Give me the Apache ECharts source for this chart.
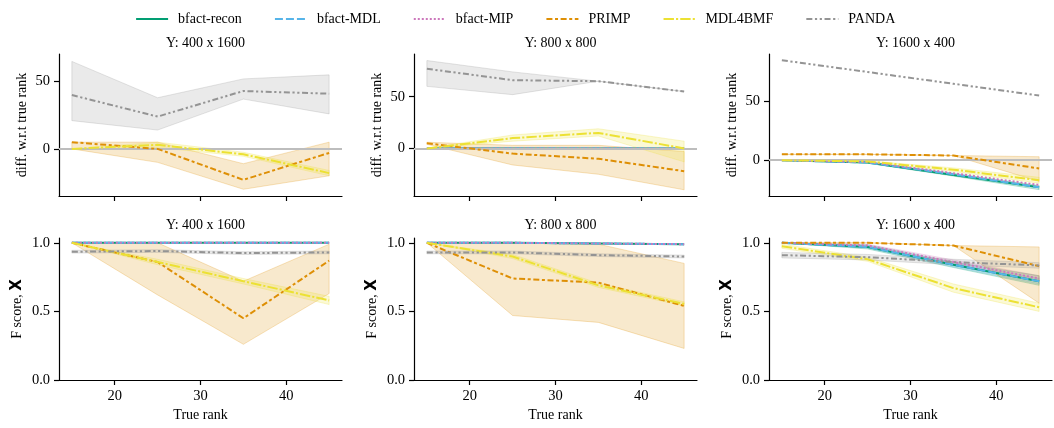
<!DOCTYPE html>
<html><head><meta charset="utf-8">
<script src="https://cdn.jsdelivr.net/npm/echarts@6/dist/echarts.min.js"></script>
<style>html,body{margin:0;padding:0;background:#fff}#c{width:1054px;height:428px}</style>
</head><body><div id="c"></div>
<script>
// ---------- data ----------
const trueRank = [15, 25, 35, 45];
const methods = ['bfact-recon', 'bfact-MDL', 'bfact-MIP', 'PRIMP', 'MDL4BMF', 'PANDA'];
const panelTitles = ['Y: 400 x 1600', 'Y: 800 x 800', 'Y: 1600 x 400'];
const xTickValues = [20, 30, 40];
const diffTickValues = [0, 50];
const fTickValues = [0, 0.5, 1.0];

// diff. w.r.t true rank — Y: 400 x 1600
const diffA_recon = [0, 0, 0, 0];
const diffA_MDL = [0, 0, 0, 0];
const diffA_MIP = [0, 0, 0, 0];
const diffA_PRIMP = [5, 0, -23, -3];
const diffA_PRIMP_lo = [0, -10, -30, -20];
const diffA_PRIMP_hi = [5, 5, -11, 5];
const diffA_MDL4BMF = [0, 3, -4, -18];
const diffA_MDL4BMF_lo = [0, 1, -5.5, -20];
const diffA_MDL4BMF_hi = [0, 5, -2.5, -16];
const diffA_PANDA = [40, 24, 43, 41];
const diffA_PANDA_lo = [21, 14, 37, 26];
const diffA_PANDA_hi = [65, 38, 52, 55];

// diff — Y: 800 x 800
const diffB_recon = [0, 0, 0, 0];
const diffB_MDL = [0, 0, 0, 0];
const diffB_MIP = [0, 0, 0, 0];
const diffB_PRIMP = [5, -5, -10, -22];
const diffB_PRIMP_lo = [4, -16, -25, -40];
const diffB_PRIMP_hi = [6, 3, 3, -3];
const diffB_MDL4BMF = [0, 10, 15, 0];
const diffB_MDL4BMF_lo = [0, 7, 12, -13];
const diffB_MDL4BMF_hi = [0, 13, 19, 7];
const diffB_PANDA = [77, 66, 65, 55];
const diffB_PANDA_lo = [60, 52, 65, 55];
const diffB_PANDA_hi = [85, 74, 65, 55];

// diff — Y: 1600 x 400
const diffC_recon = [0, -2, -12.5, -23];
const diffC_recon_lo = [0, -2.5, -13.5, -25];
const diffC_recon_hi = [0, -1.5, -11, -21.5];
const diffC_MDL = [0, -2, -12, -23];
const diffC_MIP = [0, -1.5, -11, -21];
const diffC_PRIMP = [5, 5, 4, -7];
const diffC_PRIMP_lo = [5, 5, 4, -18];
const diffC_PRIMP_hi = [5, 5, 4, 3];
const diffC_MDL4BMF = [0, -1, -8, -17];
const diffC_MDL4BMF_lo = [0, -1.5, -9.5, -19.5];
const diffC_MDL4BMF_hi = [0, -0.5, -6.5, -14.5];
const diffC_PANDA = [85, 75, 65, 55];

// F score, X — Y: 400 x 1600
const fA_recon = [1, 1, 1, 1];
const fA_MDL = [1, 1, 1, 1];
const fA_MIP = [1, 1, 1, 1];
const fA_PRIMP = [1.0, 0.86, 0.45, 0.87];
const fA_PRIMP_lo = [1.0, 0.62, 0.26, 0.63];
const fA_PRIMP_hi = [1.0, 1.0, 0.72, 0.99];
const fA_MDL4BMF = [1.0, 0.86, 0.72, 0.58];
const fA_MDL4BMF_lo = [1.0, 0.84, 0.70, 0.55];
const fA_MDL4BMF_hi = [1.0, 0.88, 0.74, 0.61];
const fA_PANDA = [0.935, 0.94, 0.925, 0.93];
const fA_PANDA_lo = [0.925, 0.93, 0.915, 0.92];
const fA_PANDA_hi = [0.945, 0.95, 0.935, 0.94];

// F score — Y: 800 x 800
const fB_recon = [1.0, 1.0, 0.995, 0.99];
const fB_MDL = [1.0, 1.0, 0.995, 0.99];
const fB_MIP = [1.0, 1.0, 0.995, 0.99];
const fB_PRIMP = [1.0, 0.74, 0.71, 0.54];
const fB_PRIMP_lo = [1.0, 0.47, 0.42, 0.23];
const fB_PRIMP_hi = [1.0, 1.0, 0.99, 0.85];
const fB_MDL4BMF = [1.0, 0.90, 0.69, 0.555];
const fB_MDL4BMF_lo = [1.0, 0.885, 0.675, 0.54];
const fB_MDL4BMF_hi = [1.0, 0.915, 0.705, 0.57];
const fB_PANDA = [0.93, 0.93, 0.91, 0.90];
const fB_PANDA_lo = [0.92, 0.92, 0.90, 0.89];
const fB_PANDA_hi = [0.94, 0.94, 0.92, 0.91];

// F score — Y: 1600 x 400
const fC_recon = [1.0, 0.97, 0.84, 0.72];
const fC_recon_lo = [1.0, 0.955, 0.82, 0.69];
const fC_recon_hi = [1.0, 0.985, 0.86, 0.76];
const fC_MDL = [1.0, 0.97, 0.84, 0.72];
const fC_MDL_lo = [1.0, 0.96, 0.825, 0.70];
const fC_MDL_hi = [1.0, 0.98, 0.855, 0.74];
const fC_MIP = [1.0, 0.98, 0.86, 0.74];
const fC_MIP_lo = [1.0, 0.97, 0.845, 0.72];
const fC_MIP_hi = [1.0, 0.99, 0.875, 0.76];
const fC_PRIMP = [1.0, 1.0, 0.98, 0.83];
const fC_PRIMP_lo = [1.0, 1.0, 0.98, 0.56];
const fC_PRIMP_hi = [1.0, 1.0, 0.98, 0.97];
const fC_MDL4BMF = [0.975, 0.88, 0.67, 0.53];
const fC_MDL4BMF_lo = [0.96, 0.865, 0.64, 0.50];
const fC_MDL4BMF_hi = [0.99, 0.895, 0.70, 0.56];
const fC_PANDA = [0.91, 0.895, 0.86, 0.835];
const fC_PANDA_lo = [0.89, 0.875, 0.84, 0.815];
const fC_PANDA_hi = [0.93, 0.915, 0.88, 0.855];

// ---------- tables built from the arrays ----------
const panelLines = [
  [diffA_recon, diffA_MDL, diffA_MIP, diffA_PRIMP, diffA_MDL4BMF, diffA_PANDA],
  [diffB_recon, diffB_MDL, diffB_MIP, diffB_PRIMP, diffB_MDL4BMF, diffB_PANDA],
  [diffC_recon, diffC_MDL, diffC_MIP, diffC_PRIMP, diffC_MDL4BMF, diffC_PANDA],
  [fA_recon, fA_MDL, fA_MIP, fA_PRIMP, fA_MDL4BMF, fA_PANDA],
  [fB_recon, fB_MDL, fB_MIP, fB_PRIMP, fB_MDL4BMF, fB_PANDA],
  [fC_recon, fC_MDL, fC_MIP, fC_PRIMP, fC_MDL4BMF, fC_PANDA]
];
// [methodIndex, lo, hi]
const panelBands = [
  [[3, diffA_PRIMP_lo, diffA_PRIMP_hi], [4, diffA_MDL4BMF_lo, diffA_MDL4BMF_hi], [5, diffA_PANDA_lo, diffA_PANDA_hi]],
  [[3, diffB_PRIMP_lo, diffB_PRIMP_hi], [4, diffB_MDL4BMF_lo, diffB_MDL4BMF_hi], [5, diffB_PANDA_lo, diffB_PANDA_hi]],
  [[0, diffC_recon_lo, diffC_recon_hi], [3, diffC_PRIMP_lo, diffC_PRIMP_hi], [4, diffC_MDL4BMF_lo, diffC_MDL4BMF_hi]],
  [[3, fA_PRIMP_lo, fA_PRIMP_hi], [4, fA_MDL4BMF_lo, fA_MDL4BMF_hi], [5, fA_PANDA_lo, fA_PANDA_hi]],
  [[3, fB_PRIMP_lo, fB_PRIMP_hi], [4, fB_MDL4BMF_lo, fB_MDL4BMF_hi], [5, fB_PANDA_lo, fB_PANDA_hi]],
  [[0, fC_recon_lo, fC_recon_hi], [1, fC_MDL_lo, fC_MDL_hi], [2, fC_MIP_lo, fC_MIP_hi],
   [3, fC_PRIMP_lo, fC_PRIMP_hi], [4, fC_MDL4BMF_lo, fC_MDL4BMF_hi], [5, fC_PANDA_lo, fC_PANDA_hi]]
];

// ---------- styles ----------
const colors = ['#029e73', '#56b4e9', '#cc78bc', '#de8f05', '#ece133', '#949494'];
const dashes = ['solid', [8, 3], [2, 2], [6, 2.6, 3, 2.6], [10.4, 2.1, 2.1, 2.1], [6, 2.6, 2.2, 2.6, 2.2, 2.6]];
const serif = "'Liberation Serif', 'DejaVu Serif', serif";
function rgba(hex, a) {
  const n = parseInt(hex.slice(1), 16);
  return `rgba(${n >> 16},${(n >> 8) & 255},${n & 255},${a})`;
}

const colLeft = [59, 414, 769];
const gridW = 283;
const rowTop = [54, 238];
const gridH = 142;
const diffRanges = [[-35, 70.5], [-46, 91.3], [-30.4, 90.3]];

const grids = [], xAxes = [], yAxes = [], titles = [], series = [];
for (let p = 0; p < 6; p++) {
  const r = Math.floor(p / 3), c = p % 3;
  grids.push({ left: colLeft[c], top: rowTop[r], width: gridW, height: gridH });
  titles.push({
    text: panelTitles[c], left: colLeft[c] + gridW / 2, top: rowTop[r] - (r === 0 ? 23 : 25), textAlign: 'center',
    textStyle: { fontFamily: serif, fontSize: 14, fontWeight: 'normal', color: '#000' }
  });
  xAxes.push({
    type: 'value', gridIndex: p, min: 13.5, max: 46.5,
    name: r === 1 ? 'True rank' : '', nameLocation: 'middle', nameGap: 28,
    nameTextStyle: { fontFamily: serif, fontSize: 14, color: '#000' },
    axisLine: { show: true, onZero: false, lineStyle: { color: '#000', width: 1.2 } },
    axisTick: { show: true, customValues: xTickValues, length: 5, lineStyle: { color: '#000', width: 1.2 } },
    axisLabel: { show: r === 1, customValues: xTickValues, margin: 9, fontFamily: serif, fontSize: 14.5, color: '#000' },
    splitLine: { show: false }
  });
  const isDiff = r === 0;
  yAxes.push({
    type: 'value', gridIndex: p,
    min: isDiff ? diffRanges[c][0] : 0, max: isDiff ? diffRanges[c][1] : 1.035,
    name: isDiff ? 'diff. w.r.t true rank' : '{a|F score, }{b|X}',
    nameLocation: 'middle', nameGap: isDiff ? 30 : 34,
    nameTextStyle: {
      fontFamily: serif, fontSize: 14, color: '#000',
      rich: { a: { fontFamily: serif, fontSize: 14, color: '#000' },
              b: { fontFamily: "'DejaVu Sans', sans-serif", fontSize: 15, fontWeight: 'bold', color: '#000' } }
    },
    axisLine: { show: true, onZero: false, lineStyle: { color: '#000', width: 1.2 } },
    axisTick: { show: true, customValues: isDiff ? diffTickValues : fTickValues, length: 5, lineStyle: { color: '#000', width: 1.2 } },
    axisLabel: {
      customValues: isDiff ? diffTickValues : fTickValues, margin: 9,
      fontFamily: serif, fontSize: 14.5, color: '#000',
      formatter: v => isDiff ? String(v) : Number(v).toFixed(1)
    },
    splitLine: { show: false }
  });

  // zero reference line (top row)
  if (isDiff) {
    series.push({
      type: 'line', xAxisIndex: p, yAxisIndex: p, data: [], z: 1, silent: true,
      markLine: {
        silent: true, symbol: 'none', animation: false, label: { show: false },
        lineStyle: { color: '#bdbdbd', width: 2, type: 'solid' },
        data: [{ yAxis: 0 }]
      }
    });
  }
  // bands
  panelBands[p].forEach(([m, lo, hi]) => {
    series.push({
      type: 'custom', xAxisIndex: p, yAxisIndex: p, silent: true, z: 1,
      data: [[trueRank[0], lo[0]]],
      renderItem: (params, api) => {
        const pts = [];
        for (let i = 0; i < trueRank.length; i++) pts.push(api.coord([trueRank[i], hi[i]]));
        for (let i = trueRank.length - 1; i >= 0; i--) pts.push(api.coord([trueRank[i], lo[i]]));
        return { type: 'polygon', shape: { points: pts },
                 style: { fill: rgba(colors[m], 0.2), stroke: rgba(colors[m], 0.25), lineWidth: 1 } };
      }
    });
  });
  // lines
  panelLines[p].forEach((vals, m) => {
    series.push({
      name: methods[m], type: 'line', xAxisIndex: p, yAxisIndex: p, z: 2 + m,
      symbol: 'none', showSymbol: false,
      lineStyle: { color: colors[m], width: 2, type: dashes[m] },
      itemStyle: { color: colors[m] },
      data: trueRank.map((x, i) => [x, vals[i]])
    });
  });
}

const chart = echarts.init(document.getElementById('c'), null, { renderer: 'canvas' });
chart.setOption({
  animation: false,
  backgroundColor: '#fff',
  title: titles,
  legend: {
    data: methods, left: 130, top: 7, itemWidth: 32, itemHeight: 14, itemGap: 32,
    itemStyle: { color: 'rgba(0,0,0,0)', borderColor: 'rgba(0,0,0,0)', borderWidth: 0, opacity: 0 },
    lineStyle: { width: 2.2 },
    textStyle: { fontFamily: serif, fontSize: 14, color: '#000', padding: [0, 0, 0, 5] }
  },
  grid: grids, xAxis: xAxes, yAxis: yAxes, series: series
});
</script></body></html>
